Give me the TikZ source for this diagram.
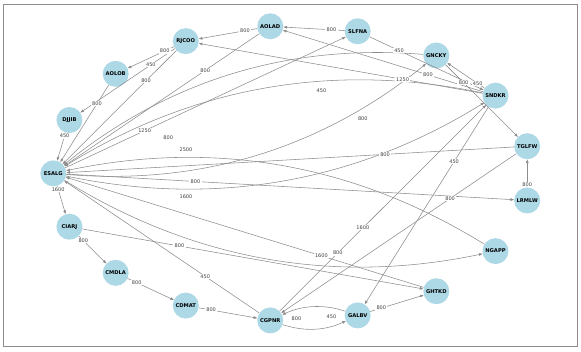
\documentclass[tikz,border=0pt]{standalone}
\usepackage{fontspec}
\setmainfont{DejaVu Sans}
\usetikzlibrary{arrows.meta,calc}
\definecolor{nodeblue}{HTML}{ADD8E6}
\begin{document}
\begin{tikzpicture}[x=1pt,y=-1pt,
  vtx/.style={circle,fill=nodeblue,minimum size=26pt,inner sep=0pt,font=\fontsize{5.2}{6}\selectfont\bfseries},
  edge/.style={draw=black!45,line width=0.55pt,-{Triangle[length=3.6pt,width=2.6pt]}},
  curvededge/.style={edge,bend right=21.8,looseness=0.917},
  wlab/.style={fill=white,inner xsep=1.4pt,inner ysep=0.7pt,font=\fontsize{5}{6}\selectfont,text=black!75}]
\useasboundingbox (0,0) rectangle (581,351);
\draw[black!45,line width=0.8pt] (3.3,4.5) rectangle (577,346.5);
\foreach \n [count=\k from 0] in {ESALG,DJJIB,AOLOB,RJCOO,AOLAD,SLFNA,GNCKY,SNDKR,TGLFW,LRMLW,NGAPP,GHTKD,GALBV,CGPNR,CDMAT,CMDLA,CIARJ} {
  \pgfmathsetmacro\ang{180-\k*360/17}
  \node[vtx] (\n) at ({292.3+239*cos(\ang)},{173.35-147.7*sin(\ang)}) {\n};
}
% straight edges
\foreach \a/\b in {RJCOO/AOLOB,RJCOO/DJJIB,RJCOO/ESALG,AOLOB/ESALG,DJJIB/ESALG,ESALG/SLFNA,AOLAD/ESALG,AOLAD/RJCOO,SLFNA/AOLAD,SNDKR/RJCOO,SLFNA/SNDKR,SNDKR/AOLAD,GNCKY/TGLFW,SNDKR/GNCKY,TGLFW/ESALG,SNDKR/GALBV,LRMLW/TGLFW,TGLFW/CGPNR,ESALG/LRMLW,ESALG/CIARJ,CIARJ/CMDLA,CMDLA/CDMAT,CDMAT/CGPNR,CIARJ/GHTKD,CGPNR/ESALG,GHTKD/ESALG,CGPNR/SNDKR,GALBV/GHTKD} {
  \draw[edge] (\a) -- (\b);
}
% curved edges (reciprocal pairs)
\foreach \a/\b in {ESALG/GNCKY,GNCKY/ESALG,ESALG/SNDKR,SNDKR/ESALG,ESALG/NGAPP,NGAPP/ESALG,CGPNR/GALBV,GALBV/CGPNR} {
  \draw[curvededge] (\a) to (\b);
}
% labels
\foreach \a/\b/\w in {RJCOO/AOLOB/800,RJCOO/DJJIB/450,RJCOO/ESALG/800,AOLOB/ESALG/800,DJJIB/ESALG/450,ESALG/SLFNA/1250,AOLAD/ESALG/800,AOLAD/RJCOO/800,SLFNA/AOLAD/800,SNDKR/RJCOO/1250,SLFNA/SNDKR/450,SNDKR/AOLAD/800,GNCKY/TGLFW/800,SNDKR/GNCKY/450,TGLFW/ESALG/800,SNDKR/GALBV/450,LRMLW/TGLFW/800,TGLFW/CGPNR/800,ESALG/LRMLW/800,ESALG/CIARJ/1600,CIARJ/CMDLA/800,CMDLA/CDMAT/800,CDMAT/CGPNR/800,CIARJ/GHTKD/800,CGPNR/ESALG/450,GHTKD/ESALG/1600,CGPNR/SNDKR/800,GALBV/GHTKD/800,ESALG/GNCKY/800,GNCKY/ESALG/450,ESALG/SNDKR/2500,SNDKR/ESALG/800,ESALG/NGAPP/1600,NGAPP/ESALG/1600,CGPNR/GALBV/800,GALBV/CGPNR/450} {
  \node[wlab] at ($(\a)!0.3!(\b)$) {\w};
}
\end{tikzpicture}
\end{document}
